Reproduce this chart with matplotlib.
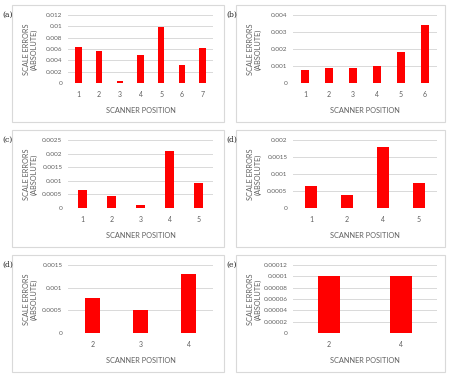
import matplotlib
matplotlib.use("Agg")
import matplotlib.pyplot as plt
from matplotlib.patches import Rectangle
import numpy as np

# Scale errors per scanner position, six panels
pos_a = ["1", "2", "3", "4", "5", "6", "7"]
err_a = [0.0063, 0.0057, 0.0003, 0.0050, 0.0098, 0.0031, 0.0062]
pos_b = ["1", "2", "3", "4", "5", "6"]
err_b = [0.00076, 0.00086, 0.0009, 0.001, 0.0018, 0.0034]
pos_c = ["1", "2", "3", "4", "5"]
err_c = [0.00066, 0.00043, 0.0001, 0.0021, 0.00091]
pos_d = ["1", "2", "4", "5"]
err_d = [0.00066, 0.00038, 0.0018, 0.00075]
pos_d2 = ["2", "3", "4"]
err_d2 = [0.00078, 0.0005, 0.0013]
pos_e = ["2", "4"]
err_e = [0.0001, 0.0001]

yticks_a = [0, 0.002, 0.004, 0.006, 0.008, 0.01, 0.012]
yticks_b = [0, 0.001, 0.002, 0.003, 0.004]
yticks_c = [0, 0.0005, 0.001, 0.0015, 0.002, 0.0025]
yticks_d = [0, 0.0005, 0.001, 0.0015, 0.002]
yticks_d2 = [0, 0.0005, 0.001, 0.0015]
yticks_e = [0, 0.00002, 0.00004, 0.00006, 0.00008, 0.0001, 0.00012]

labels_a = ["0", "0.002", "0.004", "0.006", "0.008", "0.01", "0.012"]
labels_b = ["0", "0.001", "0.002", "0.003", "0.004"]
labels_c = ["0", "0.0005", "0.001", "0.0015", "0.002", "0.0025"]
labels_d = ["0", "0.0005", "0.001", "0.0015", "0.002"]
labels_d2 = ["0", "0.0005", "0.001", "0.0015"]
labels_e = ["0", "0.00002", "0.00004", "0.00006", "0.00008", "0.0001", "0.00012"]

panels = [
    ("(a)", pos_a, err_a, yticks_a, labels_a),
    ("(b)", pos_b, err_b, yticks_b, labels_b),
    ("(c)", pos_c, err_c, yticks_c, labels_c),
    ("(d)", pos_d, err_d, yticks_d, labels_d),
    ("(d)", pos_d2, err_d2, yticks_d2, labels_d2),
    ("(e)", pos_e, err_e, yticks_e, labels_e),
]

W, H = 449, 378
fig = plt.figure(figsize=(W / 100, H / 100), dpi=100)
fig.patch.set_facecolor("white")

txt = "#606060"
grid = "#D9D9D9"
fs_ytick = 4.6
fs_xtick = 5.0
fs_lab = 5.3
font = "Lato"

# pixel layout: box (x0, x1), plot area (x0, x1) per column; row offsets
cols = [((12, 224), (68, 213)), ((236, 445), (293, 437))]
rows = [0, 125, 250]

for i, (tag, pos, err, yt, yl) in enumerate(panels):
    r, c = divmod(i, 2)
    (bx0, bx1), (px0, px1) = cols[c]
    oy = rows[r]
    by0, by1 = oy + 5, oy + 122
    py0, py1 = oy + 15, oy + 83

    fig.patches.append(Rectangle((bx0 / W, 1 - by1 / H), (bx1 - bx0) / W, (by1 - by0) / H,
                                 transform=fig.transFigure, fill=False,
                                 edgecolor=grid, linewidth=0.8))
    fig.text((bx0 - 10) / W, 1 - (oy + 15) / H, tag, fontsize=5.5,
             family="DejaVu Serif", color="#222222", va="center", ha="left")

    ax = fig.add_axes([px0 / W, 1 - py1 / H, (px1 - px0) / W, (py1 - py0) / H])
    x = np.arange(len(pos))
    ax.bar(x, err, width=0.31, color="#FF0000", zorder=3)
    ax.set_xlim(-0.5, len(pos) - 0.5)
    ax.set_ylim(0, yt[-1])
    ax.set_yticks(yt)
    ax.set_yticklabels(yl, fontsize=fs_ytick, color=txt, family=font)
    ax.set_xticks(x)
    ax.set_xticklabels(pos, fontsize=fs_xtick, color=txt, family=font)
    ax.tick_params(axis="y", length=0, pad=4)
    ax.tick_params(axis="x", length=0, pad=6)
    for s in ax.spines.values():
        s.set_visible(False)
    ax.grid(axis="y", color=grid, linewidth=0.7, zorder=0)
    ax.set_xlabel("SCANNER POSITION", fontsize=fs_lab, color=txt, family=font)
    ax.xaxis.set_label_coords(0.5, -(107 - 83) / (py1 - py0))
    ax.set_ylabel("SCALE ERRORS\n(ABSOLUTE)", fontsize=fs_lab, color=txt, family=font,
                  linespacing=1.1, va="center", ha="center")
    ax.yaxis.set_label_coords((bx0 + 18 - px0) / (px1 - px0), 0.5)

fig.savefig("out.png", dpi=100)
